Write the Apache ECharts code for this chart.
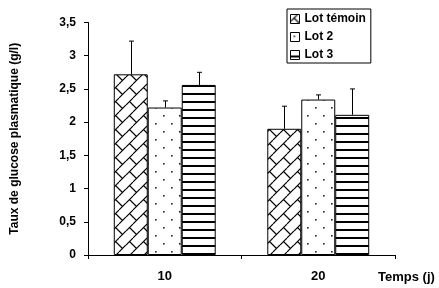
<!DOCTYPE html>
<html>
<head>
<meta charset="utf-8">
<script src="https://cdn.jsdelivr.net/npm/echarts@6/dist/echarts.min.js"></script>
<style>html,body{margin:0;padding:0;background:#fff}#c{width:439px;height:288px}</style>
</head>
<body>
<div id="c"></div>
<script>
var categories = ['10', '20'];
var seriesNames = ['Lot témoin', 'Lot 2', 'Lot 3'];
var lotTemoin = [2.72, 1.90];
var lot2 = [2.22, 2.34];
var lot3 = [2.56, 2.11];
var errTemoin = [0.50, 0.34];
var err2 = [0.10, 0.07];
var err3 = [0.19, 0.39];
var yTicks = [0, 0.5, 1, 1.5, 2, 2.5, 3, 3.5];

var FONT = 'Liberation Sans, Arial, sans-serif';

function tile(w, h, draw) {
  var c = document.createElement('canvas');
  c.width = w; c.height = h;
  var g = c.getContext('2d');
  g.fillStyle = '#fff'; g.fillRect(0, 0, w, h);
  draw(g);
  return { image: c, repeat: 'repeat' };
}
var patWeave = tile(14, 14, function (g) {
  g.strokeStyle = '#000'; g.lineWidth = 1.1;
  g.beginPath();
  g.moveTo(0, 7); g.lineTo(7, 0);
  g.moveTo(7, 14); g.lineTo(14, 7);
  g.moveTo(3.5, 3.5); g.lineTo(10.5, 10.5);
  g.stroke();
});
var patDots = tile(16, 16, function (g) {
  g.fillStyle = '#222';
  g.fillRect(3, 3, 1.6, 1.6);
  g.fillRect(11, 11, 1.6, 1.6);
});
var patLines = tile(8, 8, function (g) {
  g.fillStyle = '#000';
  g.fillRect(0, 5, 8, 2);
});
var patterns = [patWeave, patDots, patLines];
var values = [lotTemoin, lot2, lot3];
var errors = [errTemoin, err2, err3];
var GAP = 0.336;

var errData = [];
for (var s = 0; s < 3; s++) {
  for (var i = 0; i < categories.length; i++) {
    errData.push([i, values[s][i], values[s][i] + errors[s][i], s]);
  }
}

var series = [];
for (var k = 0; k < 3; k++) {
  series.push({
    name: seriesNames[k],
    type: 'bar',
    data: values[k],
    barGap: '0%',
    barCategoryGap: (GAP * 100) + '%',
    itemStyle: { color: patterns[k], borderColor: '#000', borderWidth: 1 },
    emphasis: { disabled: true },
    animation: false
  });
}
series.push({
  type: 'custom',
  name: 'err',
  data: errData,
  z: 10,
  animation: false,
  renderItem: function (params, api) {
    var cat = api.value(0), mean = api.value(1), hi = api.value(2), s = api.value(3);
    var band = api.size([1, 0])[0];
    var bw = band * (1 - GAP) / 3;
    var p = api.coord([cat, mean]);
    var x = Math.round(p[0] + (s - 1) * bw) + 0.5;
    var y1 = p[1];
    var y2 = api.coord([cat, hi])[1];
    return {
      type: 'group',
      children: [
        { type: 'line', shape: { x1: x, y1: y1, x2: x, y2: y2 }, style: { stroke: '#000', lineWidth: 1 } },
        { type: 'line', shape: { x1: x - 2.5, y1: y2, x2: x + 2.5, y2: y2 }, style: { stroke: '#000', lineWidth: 1 } }
      ]
    };
  }
});

var chart = echarts.init(document.getElementById('c'), null, { renderer: 'canvas' });
chart.setOption({
  animation: false,
  textStyle: { fontFamily: FONT },
  grid: { left: 88, right: 44, top: 22.5, bottom: 33, containLabel: false },
  legend: {
    data: seriesNames,
    orient: 'vertical',
    left: 287, top: 9,
    padding: [4, 5, 2, 3],
    itemWidth: 9, itemHeight: 9, itemGap: 6,
    icon: 'rect',
    borderColor: '#000', borderWidth: 1,
    selectedMode: false,
    textStyle: { fontFamily: FONT, fontWeight: 'bold', fontSize: 12, color: '#000' },
    itemStyle: { borderColor: '#000', borderWidth: 1 }
  },
  xAxis: {
    type: 'category',
    data: categories,
    axisLine: { lineStyle: { color: '#000', width: 1 } },
    axisTick: { show: true, length: 4, lineStyle: { color: '#000' } },
    axisLabel: { color: '#000', fontWeight: 'bold', fontSize: 13, fontFamily: FONT, margin: 15 }
  },
  yAxis: {
    type: 'value',
    min: yTicks[0], max: yTicks[yTicks.length - 1], interval: 0.5,
    name: 'Taux de glucose plasmatique (g/l)',
    nameLocation: 'middle',
    nameGap: 67,
    nameTextStyle: { color: '#000', fontWeight: 'bold', fontSize: 12, fontFamily: FONT },
    axisLine: { show: true, lineStyle: { color: '#000', width: 1 } },
    axisTick: { show: true, length: 4, lineStyle: { color: '#000' } },
    splitLine: { show: false },
    axisLabel: {
      color: '#000', fontWeight: 'bold', fontSize: 12, fontFamily: FONT, margin: 12,
      formatter: function (v) { return String(v).replace('.', ','); }
    }
  },
  graphic: [{
    type: 'text', left: 378, top: 271,
    style: { text: 'Temps (j)', fill: '#000', font: 'bold 13px ' + FONT }
  }],
  series: series
});
</script>
</body>
</html>
